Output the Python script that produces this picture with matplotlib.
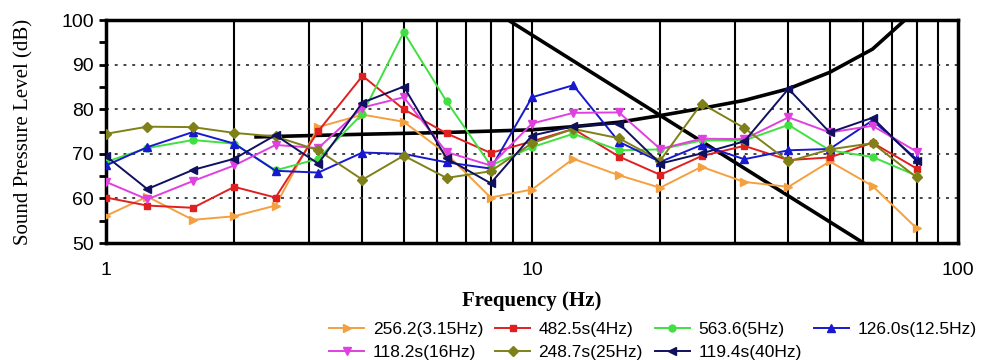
import numpy as np
import matplotlib
matplotlib.use("Agg")
import matplotlib.pyplot as plt
from matplotlib.ticker import FixedLocator, NullLocator

# 1/3-octave band centre frequencies
freqs = [1, 1.25, 1.6, 2, 2.5, 3.15, 4, 5, 6.3, 8, 10, 12.5, 16, 20, 25, 31.5, 40, 50, 63, 80]

spl_256 = [56.1, 60.4, 55.2, 56.0, 58.4, 76.0, 78.8, 77.2, 70.0, 60.2,
           62.0, 68.9, 65.2, 62.4, 67.1, 63.7, 62.6, 68.3, 62.8, 53.3]
spl_482 = [60.2, 58.4, 57.9, 62.6, 60.2, 75.1, 87.5, 80.0, 74.6, 70.2,
           72.8, 75.6, 69.4, 65.3, 69.5, 71.8, 68.6, 69.2, 72.5, 66.7]
spl_563 = [68.2, 71.3, 73.1, 72.3, 66.3, 68.9, 79.0, 97.3, 81.8, 67.4,
           71.5, 74.5, 70.8, 71.0, 73.0, 73.0, 76.5, 70.8, 69.3, 65.1]
spl_126 = [67.4, 71.5, 74.9, 72.3, 66.2, 65.8, 70.3, 70.0, 68.1, 66.7,
           82.7, 85.4, 72.7, 68.2, 72.0, 68.8, 70.8, 71.1, 77.5, 68.8]
spl_118 = [63.7, 59.8, 63.9, 67.4, 72.0, 71.3, 80.4, 82.7, 70.4, 67.4,
           76.8, 79.2, 79.3, 71.1, 73.4, 73.3, 78.2, 74.8, 76.3, 70.5]
spl_248 = [74.5, 76.1, 76.0, 74.7, 73.9, 70.8, 64.2, 69.6, 64.6, 66.1,
           72.4, 75.6, 73.5, 68.5, 81.3, 75.8, 68.3, 71.0, 72.4, 64.7]
spl_119 = [69.5, 62.1, 66.4, 68.9, 74.2, 67.8, 81.5, 85.1, 69.0, 63.4,
           74.1, 76.2, 76.8, 67.8, 70.1, 72.8, 84.6, 74.8, 78.1, 68.4]

labels = ["256.2(3.15Hz)", "482.5s(4Hz)", "563.6(5Hz)", "126.0s(12.5Hz)",
          "118.2s(16Hz)", "248.7s(25Hz)", "119.4s(40Hz)"]

# reference curves
thr_f = [2.25, 4, 6.3, 10, 12.5, 16, 20, 25, 31.5, 40, 50, 63, 75]
thr_db = [73.8, 74.4, 74.8, 75.4, 76.1, 77.1, 78.6, 80.2, 82.0, 84.6, 88.3, 93.5, 100]
slope_f = [8.8, 60]
slope_db = [100, 50]

series = [spl_256, spl_482, spl_563, spl_126, spl_118, spl_248, spl_119]
colors = ["#F5A040", "#E02020", "#40E040", "#1818D0", "#E040E0", "#808018", "#101060"]
markers = [">", "s", "o", "^", "v", "D", "<"]
msizes = [6, 5, 5, 6, 6, 5, 6]

fig = plt.figure(figsize=(9.87, 3.6), dpi=100)
ax = fig.add_axes([0.1074, 0.325, 0.8632, 0.619])

ax.set_xscale("log")
ax.set_xlim(1, 100)
ax.set_ylim(50, 100)

# vertical grid at every integer multiple
for f in list(range(2, 10)) + list(range(10, 100, 10)):
    ax.axvline(f, color="black", lw=1.5, zorder=1)
for v in [60, 70, 80, 90]:
    ax.axhline(v, color="#444444", lw=1.4, ls=(0, (1.5, 3)), zorder=1)

ax.plot(thr_f, thr_db, color="black", lw=2.6, zorder=2)
ax.plot(slope_f, slope_db, color="black", lw=2.6, zorder=2)

handles = []
for y, c, m, ms, lab in zip(series, colors, markers, msizes, labels):
    h, = ax.plot(freqs, y, color=c, marker=m, ms=ms, lw=1.4, label=lab, zorder=3)
    handles.append(h)

ax.xaxis.set_major_locator(FixedLocator([1, 10, 100]))
ax.set_xticklabels(["1", "10", "100"])
ax.xaxis.set_minor_locator(NullLocator())
ax.tick_params(axis="x", length=0, pad=14, labelsize=14)
ax.set_yticks([50, 60, 70, 80, 90, 100])
ax.set_yticks(np.arange(55, 100, 10), minor=True)
ax.tick_params(axis="y", which="both", direction="out", length=5, width=2, labelsize=14)
for lbl in ax.get_xticklabels() + ax.get_yticklabels():
    lbl.set_family("Liberation Sans")

for s in ax.spines.values():
    s.set_linewidth(2.5)

ax.set_ylabel("Sound Pressure Level (dB)", family="Liberation Serif", fontsize=15, labelpad=20)
ax.set_xlabel("Frequency (Hz)", family="Liberation Serif", fontsize=15, fontweight="bold", labelpad=8)

# legend filled row by row
order = [0, 4, 1, 5, 2, 6, 3]
fig.legend([handles[i] for i in order], [labels[i] for i in order],
           loc="lower right", bbox_to_anchor=(1.0, -0.028), ncol=4, frameon=False,
           prop={"family": "Liberation Sans", "size": 12.5}, handlelength=2.0,
           handletextpad=0.5, columnspacing=0.7, labelspacing=0.45, borderaxespad=0.2)

fig.savefig("out.png", dpi=100, facecolor="white")
